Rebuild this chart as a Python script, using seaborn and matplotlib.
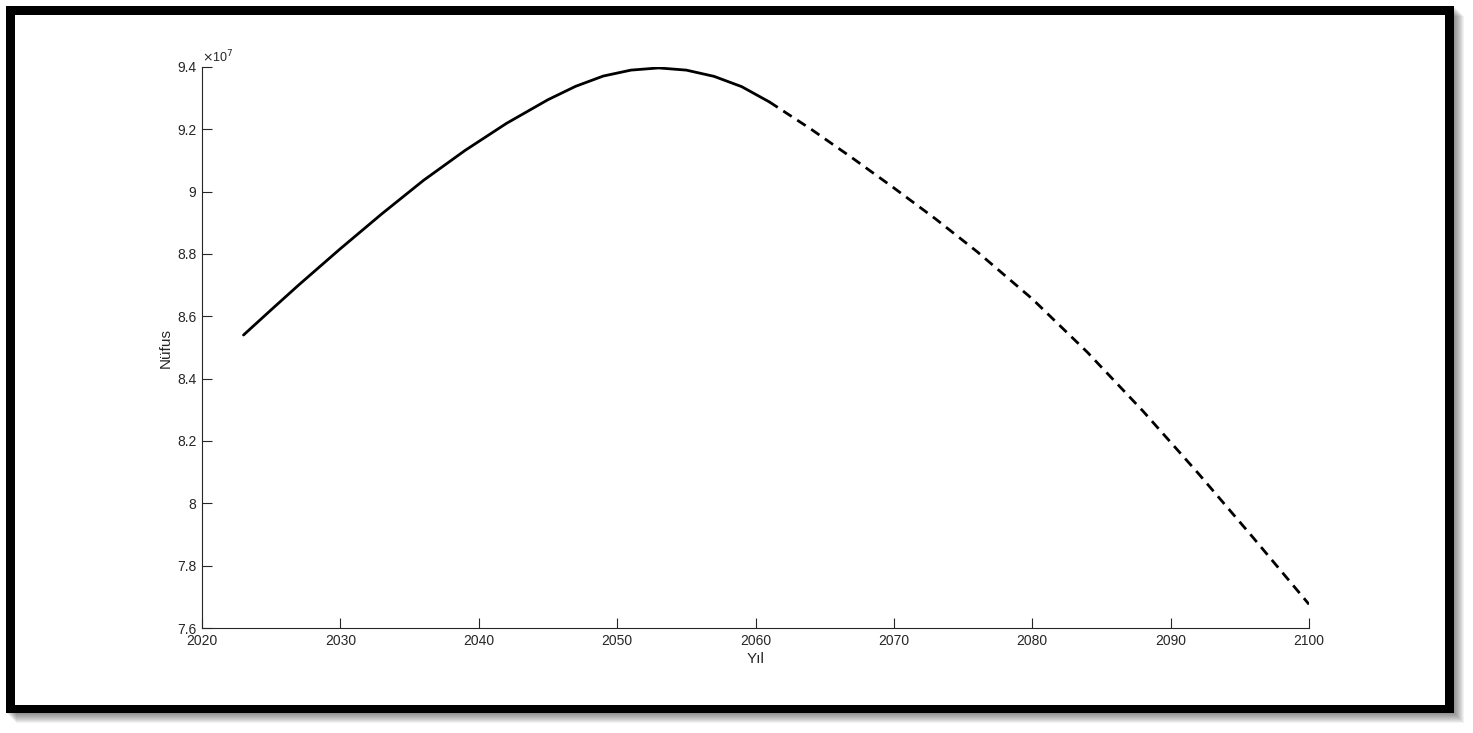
import numpy as np
import pandas as pd
import matplotlib
matplotlib.use("Agg")
import matplotlib.pyplot as plt
import seaborn as sns
from matplotlib.patches import Rectangle
from matplotlib.ticker import FuncFormatter

# fitted part (solid), population in persons
years_fit = [2023, 2025, 2027, 2030, 2033, 2036, 2039, 2042, 2045, 2047, 2049,
             2051, 2053, 2055, 2057, 2059, 2061]
pop_fit = [85.40e6, 86.21e6, 87.01e6, 88.17e6, 89.29e6, 90.36e6, 91.32e6, 92.19e6,
           92.95e6, 93.38e6, 93.71e6, 93.90e6, 93.97e6, 93.90e6, 93.70e6, 93.37e6, 92.88e6]

# projection part (dashed)
years_proj = [2061, 2064, 2067, 2070, 2073, 2076, 2080, 2084, 2088, 2092, 2096, 2100]
pop_proj = [92.88e6, 92.01e6, 91.08e6, 90.12e6, 89.13e6, 88.08e6, 86.56e6, 84.84e6,
            82.96e6, 80.96e6, 78.88e6, 76.76e6]

xticks = list(range(2020, 2101, 10))
yticks = [7.6e7, 7.8e7, 8.0e7, 8.2e7, 8.4e7, 8.6e7, 8.8e7, 9.0e7, 9.2e7, 9.4e7]

sns.set_style("white")
plt.rcParams["font.family"] = ["Liberation Sans", "DejaVu Sans"]

W, H = 1473, 733
fig = plt.figure(figsize=(W / 100, H / 100), dpi=100)

def fr(x0, y0, x1, y1):
    # pixel box (top-left origin) -> figure fraction rect args
    return (x0 / W, 1 - y1 / H), (x1 - x0) / W, (y1 - y0) / H

# drop shadow + black frame
for k in range(1, 11):
    xy, w, h = fr(6 + k, 6 + k, 1454 + k, 713 + k)
    fig.patches.append(Rectangle(xy, w, h, transform=fig.transFigure, color="black",
                                 alpha=0.05, lw=0, zorder=-5))
xy, w, h = fr(6, 6, 1454, 713)
fig.patches.append(Rectangle(xy, w, h, transform=fig.transFigure, color="black", lw=0, zorder=-4))
xy, w, h = fr(15, 15, 1445, 705)
fig.patches.append(Rectangle(xy, w, h, transform=fig.transFigure, color="white", lw=0, zorder=-3))

ax = fig.add_axes([202 / W, 1 - 628 / H, (1309 - 202) / W, (628 - 67) / H])
ax.set_facecolor("none")

df_fit = pd.DataFrame({"Yil": years_fit, "Nufus": pop_fit})
df_proj = pd.DataFrame({"Yil": years_proj, "Nufus": pop_proj})
sns.lineplot(data=df_fit, x="Yil", y="Nufus", ax=ax, color="black", lw=2.0)
sns.lineplot(data=df_proj, x="Yil", y="Nufus", ax=ax, color="black", lw=2.0,
             linestyle=(0, (3.6, 2.4)))

ax.set_xlim(2020, 2100)
ax.set_ylim(7.6e7, 9.4e7)
ax.set_xticks(xticks)
ax.set_yticks(yticks)
ax.yaxis.set_major_formatter(FuncFormatter(lambda v, p: f"{v / 1e7:g}"))

tc = "#262626"
for s in ["top", "right"]:
    ax.spines[s].set_visible(False)
for s in ["left", "bottom"]:
    ax.spines[s].set_color(tc)
    ax.spines[s].set_linewidth(0.8)
ax.tick_params(direction="in", length=7, width=0.8, colors=tc, labelsize=10, pad=4,
               bottom=True, left=True)

ax.set_xlabel("Yıl", fontsize=11, color=tc, labelpad=3)
ax.set_ylabel("Nüfus", fontsize=11, color=tc, labelpad=3)
ax.text(0.0, 1.003, r"$\times$10$^{7}$", transform=ax.transAxes, ha="left", va="bottom",
        fontsize=9, color=tc)

fig.savefig("out.png", dpi=100)
